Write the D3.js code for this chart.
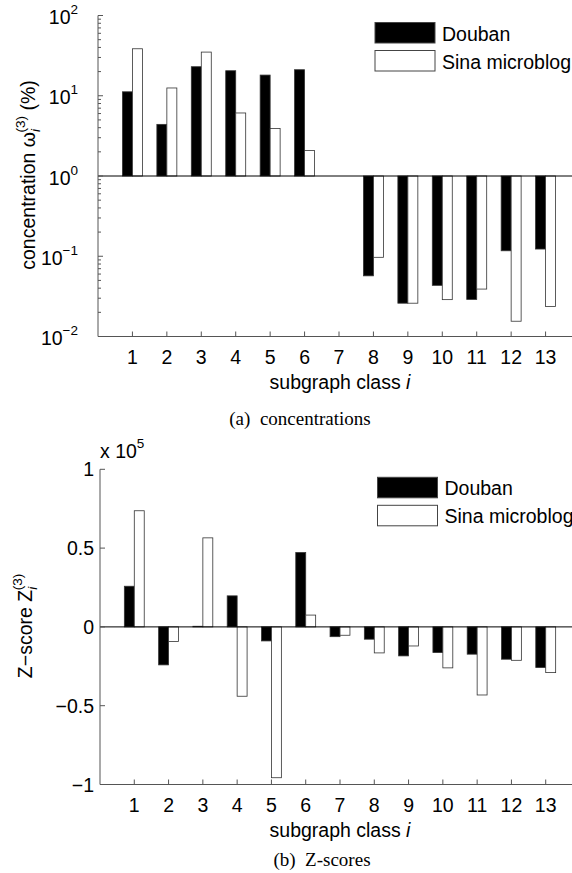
<!DOCTYPE html>
<html><head><meta charset="utf-8">
<script src="https://cdn.jsdelivr.net/npm/d3@7/dist/d3.min.js"></script>
<style>
body{margin:0;background:#fff;}
svg{display:block;font-family:"Liberation Sans",Arial,sans-serif;}
</style></head>
<body><svg id="c" width="572" height="873"></svg>
<script>
const classes = [1,2,3,4,5,6,7,8,9,10,11,12,13];
const seriesNames = ["Douban","Sina microblog"];
// (a) concentrations, %
const concDouban = [11.2,4.4,23,20.5,18.1,21.1,1.0,0.057,0.026,0.0434,0.029,0.117,0.123];
const concSina   = [38.5,12.5,35,6.1,3.9,2.08,1.0,0.097,0.026,0.0288,0.039,0.0155,0.0236];
// (b) Z-scores, x 10^5
const zDouban = [0.258,-0.241,0.004,0.197,-0.089,0.472,-0.062,-0.078,-0.184,-0.163,-0.173,-0.205,-0.258];
const zSina   = [0.737,-0.093,0.565,-0.44,-0.957,0.075,-0.053,-0.165,-0.121,-0.26,-0.432,-0.212,-0.29];
const logTickExps = [-2,-1,0,1,2];
const zTicks = [-1,-0.5,0,0.5,1];
const zTickLabels = ["\u22121","\u22120.5","0","0.5","1"];

const svg = d3.select("#c");
const AX = "#555";
const BW = 0.29;
const FS = 19.5, FSS = 13.5;

function txt(g, x, y, anchor, rot){
  return g.append("text")
    .attr("transform",`translate(${x},${y})`+(rot?` rotate(${rot})`:""))
    .attr("text-anchor",anchor||"start").attr("font-size",FS);
}

function drawLegend(g, x0, y0){
  const items=[{n:seriesNames[0],f:"#000"},{n:seriesNames[1],f:"#fff"}];
  items.forEach((it,i)=>{
    g.append("rect").attr("x",x0).attr("y",y0+i*28).attr("width",60).attr("height",20.5)
      .attr("fill",it.f).attr("stroke","#444").attr("stroke-width",1);
    txt(g, x0+67, y0+i*28+18).text(it.n);
  });
}

function xAxisBottom(g, x, yb){
  g.append("line").attr("x1",x(0)).attr("x2",x(14)).attr("y1",yb).attr("y2",yb).attr("stroke",AX);
  classes.forEach(c=>{
    g.append("line").attr("x1",x(c)).attr("x2",x(c)).attr("y1",yb).attr("y2",yb-5).attr("stroke",AX);
    txt(g, x(c), yb+27.5, "middle").text(c);
  });
  const t=txt(g, 340, yb+52, "middle");
  t.append("tspan").text("subgraph class ");
  t.append("tspan").attr("font-style","italic").text("i");
}

// ---------- (a) ----------
{
  const g = svg.append("g");
  const x = d3.scaleLinear().domain([0,14]).range([98,580]);
  const y = d3.scaleLog().domain([0.01,100]).range([336.5,15.5]);
  const base = y(1);
  classes.forEach((c,i)=>{
    [[concDouban[i],"#000",-BW],[concSina[i],"#fff",0]].forEach(([v,f,off])=>{
      const yv=y(v);
      g.append("rect").attr("x",x(c+off)).attr("width",x(BW)-x(0))
        .attr("y",Math.min(yv,base)).attr("height",Math.abs(base-yv))
        .attr("fill",f).attr("stroke","#333").attr("stroke-width",0.8);
    });
  });
  g.append("line").attr("x1",x(0)).attr("x2",x(14)).attr("y1",base).attr("y2",base).attr("stroke","#000");
  g.append("line").attr("x1",x(0)).attr("x2",x(0)).attr("y1",y(100)).attr("y2",y(0.01)).attr("stroke",AX);
  y.ticks().forEach(t=>{
    const major = logTickExps.some(e=>Math.abs(Math.log10(t)-e)<1e-9);
    g.append("line").attr("x1",x(0)).attr("x2",x(0)+(major?5:3)).attr("y1",y(t)).attr("y2",y(t)).attr("stroke",AX);
  });
  logTickExps.forEach(e=>{
    const t=txt(g, 78, y(Math.pow(10,e))+8.5, "end");
    t.append("tspan").text("10");
    t.append("tspan").attr("font-size",FSS).attr("dy",-10).text(e<0?"\u2212"+(-e):e);
  });
  xAxisBottom(g, x, 336.5);
  const yl=txt(g, 35, 175, "middle", -90);
  yl.append("tspan").text("concentration \u03c9");
  yl.append("tspan").attr("font-size",FSS).attr("font-style","italic").attr("dy",5).text("i");
  yl.append("tspan").attr("font-size",FSS).attr("dx",-3.5).attr("dy",-15).text("(3)");
  yl.append("tspan").attr("dy",10).text(" (%)");
  drawLegend(g, 375, 22.5);
  g.append("text").attr("x",300).attr("y",425).attr("text-anchor","middle")
    .attr("font-family","'Liberation Serif','Times New Roman',serif").attr("font-size",19).attr("xml:space","preserve")
    .text("(a)  concentrations");
}

// ---------- (b) ----------
{
  const g = svg.append("g");
  const x = d3.scaleLinear().domain([0,14]).range([100,580]);
  const y = d3.scaleLinear().domain([-1,1]).range([784.5,469.3]);
  const base = y(0);
  classes.forEach((c,i)=>{
    [[zDouban[i],"#000",-BW],[zSina[i],"#fff",0]].forEach(([v,f,off])=>{
      const yv=y(v);
      g.append("rect").attr("x",x(c+off)).attr("width",x(BW)-x(0))
        .attr("y",Math.min(yv,base)).attr("height",Math.abs(base-yv))
        .attr("fill",f).attr("stroke","#333").attr("stroke-width",0.8);
    });
  });
  g.append("line").attr("x1",x(0)).attr("x2",x(14)).attr("y1",base).attr("y2",base).attr("stroke","#000");
  g.append("line").attr("x1",x(0)).attr("x2",x(0)).attr("y1",y(1)).attr("y2",y(-1)).attr("stroke",AX);
  zTicks.forEach((t,i)=>{
    g.append("line").attr("x1",x(0)).attr("x2",x(0)+5).attr("y1",y(t)).attr("y2",y(t)).attr("stroke",AX);
    txt(g, 94, y(t)+7, "end").text(zTickLabels[i]);
  });
  const ex=txt(g, 100, 458);
  ex.append("tspan").text("x 10");
  ex.append("tspan").attr("font-size",FSS).attr("dy",-10).text("5");
  xAxisBottom(g, x, 784.5);
  const yl=txt(g, 32, 626, "middle", -90);
  yl.append("tspan").text("Z\u2212score Z");
  yl.append("tspan").attr("font-size",FSS).attr("font-style","italic").attr("dy",5).text("i");
  yl.append("tspan").attr("font-size",FSS).attr("dx",-3.5).attr("dy",-15).text("(3)");
  drawLegend(g, 377.5, 477.3);
  g.append("text").attr("x",322).attr("y",866).attr("text-anchor","middle")
    .attr("font-family","'Liberation Serif','Times New Roman',serif").attr("font-size",19).attr("xml:space","preserve")
    .text("(b)  Z-scores");
}
</script></body></html>
